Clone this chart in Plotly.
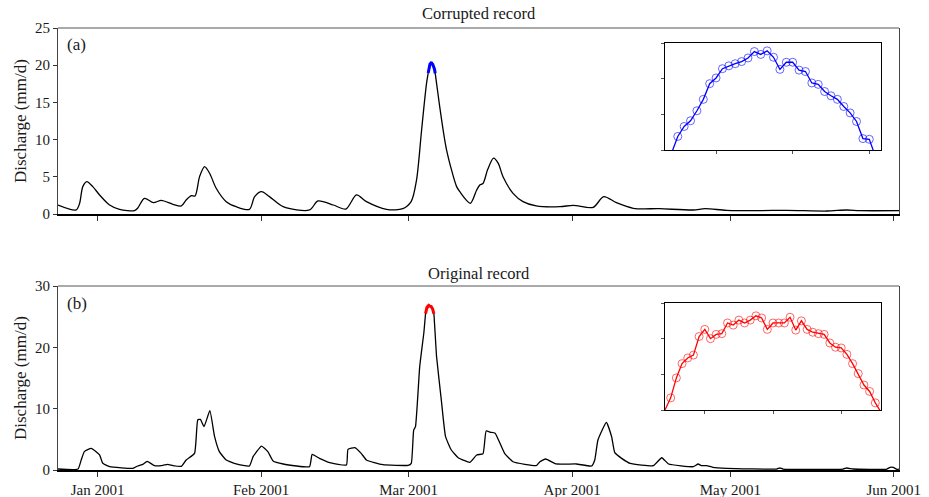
import pandas as pd
import plotly.graph_objects as go

BASE = pd.Timestamp("2001-01-01")

# ---------------- Panel (a): corrupted record (days since 2001-01-01, mm/d)
days_a_pre = [-7.5, -4.05, -3.4, -2.8, -2.03, -0.9, 0.38, 2.28, 4.17, 7.0, 7.6, 8.9, 10.6, 12.1,
              14.3, 15.9, 16.8, 17.8, 18.5, 19.35, 20.3, 21.25, 22.5, 24.4, 26.3, 28.8, 29.8, 31.1,
              32.6, 35.2, 40.2, 41.8, 44.7, 47.1, 49.1, 51.0, 54.8, 57.9, 59.5, 60.5, 61.4, 61.9, 62.4]
q_a_pre = [1.2, 0.55, 1.44, 3.68, 4.35, 3.68, 2.56, 1.21, 0.63, 0.45, 0.77, 2.1, 1.52, 1.84,
           1.3, 1.08, 1.88, 2.46, 2.42, 5.02, 6.37, 5.48, 3.46, 1.66, 0.98, 0.63, 2.33, 3.0,
           2.33, 0.98, 0.54, 1.75, 1.21, 0.67, 2.56, 1.66, 0.63, 0.71, 1.7, 4.58, 10.86, 14.4, 17.6]
days_a_post = [64.5, 64.9, 66.2, 68.1, 68.7, 70.7, 71.9, 72.5, 73.1, 74.0, 75.1, 76.0, 76.9, 78.8,
               80.7, 83.2, 87.7, 90.2, 94.0, 96.0, 98.4, 101.6, 106.6, 113.0, 115.2, 119.3, 125.6,
               130.7, 138.3, 142.1, 144.6, 152.0]
q_a_post = [16.5, 14.4, 8.6, 3.68, 3.0, 1.44, 3.23, 3.9, 4.1, 6.0, 7.5, 6.8, 5.0, 2.78,
            1.66, 1.08, 0.98, 1.17, 0.9, 2.33, 1.52, 0.77, 0.71, 0.54, 0.71, 0.5, 0.45,
            0.5, 0.4, 0.54, 0.45, 0.45]
# hourly values around the flood peak of (a)
peak_a_start = "2001-03-04 17:00"
peak_a = [18.95, 19.19, 19.33, 19.41, 19.55, 19.71, 19.93, 20.01, 20.14, 20.18, 20.21, 20.24,
          20.29, 20.38, 20.34, 20.39, 20.30, 20.13, 20.23, 20.23, 20.12, 20.10, 19.94, 19.92,
          19.82, 19.76, 19.71, 19.61, 19.52, 19.40, 19.16, 19.15, 18.90]

# ---------------- Panel (b): original record
days_b_pre = [-7.5, -3.7, -3.1, -2.5, -1.2, 0.38, 1.0, 2.3, 6.7, 7.6, 8.6, 9.4, 10.8, 12.4, 13.3,
              14.3, 15.9, 16.8, 18.4, 19.0, 19.5, 20.2, 21.3, 22.2, 23.1, 24.4, 26.3, 28.8, 29.5,
              31.1, 32.3, 33.3, 35.2, 40.2, 40.7, 42.1, 44.0, 47.2, 47.5, 48.8, 50.0, 51.0, 54.1,
              58.9, 59.5, 59.96, 60.3, 61.1, 61.9]
q_b_pre = [0.16, 0.16, 1.63, 3.0, 3.53, 2.45, 1.09, 0.54, 0.27, 0.65, 0.92, 1.41, 0.71, 0.76, 0.92,
           0.71, 0.6, 1.63, 2.72, 8.15, 8.26, 7.07, 9.67, 5.43, 3.0, 1.63, 0.98, 0.65, 2.17,
           3.9, 3.0, 1.47, 0.98, 0.54, 2.55, 1.9, 1.2, 0.82, 3.37, 3.64, 2.72, 1.63, 0.87,
           0.76, 1.09, 6.52, 7.07, 16.85, 22.5]
days_b_post = [64.3, 65.2, 66.0, 67.1, 68.4, 70.6, 71.9, 73.1, 73.7, 74.5, 75.4, 77.2, 78.8, 83.2,
               83.9, 85.0, 87.0, 90.8, 93.7, 94.3, 94.9, 96.5, 97.5, 98.1, 99.4, 101.0, 105.4,
               107.0, 108.3, 113.0, 113.9, 114.5, 115.5, 116.7, 119.3, 128.8, 129.4, 130.0,
               141.4, 142.1, 143.3, 149.6, 150.3, 150.9, 151.6, 152.0]
q_b_post = [18.47, 11.4, 5.43, 3.26, 2.0, 1.25, 2.45, 2.65, 6.36, 6.15, 6.0, 2.72, 1.35, 0.71,
            1.35, 1.79, 0.98, 0.98, 0.65, 1.63, 4.89, 7.77, 5.43, 2.83, 1.9, 1.09, 0.71,
            2.0, 0.98, 0.54, 0.98, 0.71, 0.71, 0.43, 0.27, 0.16, 0.33, 0.16,
            0.16, 0.33, 0.16, 0.12, 0.43, 0.43, 0.12, 0.15]
peak_b_start = "2001-03-04 05:00"
peak_b = [25.50, 25.67, 25.95, 26.15, 26.23, 26.27, 26.53, 26.63, 26.50, 26.56, 26.57, 26.72,
          26.69, 26.76, 26.72, 26.76, 26.82, 26.79, 26.63, 26.72, 26.72, 26.72, 26.80, 26.62,
          26.75, 26.63, 26.59, 26.57, 26.56, 26.44, 26.38, 26.37, 26.28, 26.15, 26.01, 25.85,
          25.76, 25.60, 25.47]

# axis ticks / ranges
tick_dates = ["2001-01-01", "2001-02-01", "2001-03-01", "2001-04-01", "2001-05-01", "2001-06-01"]
tick_text = ["Jan 2001", "Feb 2001", "Mar 2001", "Apr 2001", "May 2001", "Jun 2001"]
x_range = ["2000-12-24 12:00", "2001-06-02 00:00"]
inset_a_xrange = ["2001-03-04 16:00", "2001-03-06 01:50"]
inset_a_yrange = [19.0, 20.5]
inset_b_xrange = ["2001-03-04 05:00", "2001-03-05 19:00"]
inset_b_yrange = [25.5, 27.0]


def to_time(days):
    return list(BASE + pd.to_timedelta(days, unit="D"))


t_peak_a = list(pd.date_range(peak_a_start, periods=len(peak_a), freq="h"))
t_peak_b = list(pd.date_range(peak_b_start, periods=len(peak_b), freq="h"))

x_a = to_time(days_a_pre) + t_peak_a + to_time(days_a_post)
y_a = q_a_pre + peak_a + q_a_post
x_b = to_time(days_b_pre) + t_peak_b + to_time(days_b_post)
y_b = q_b_pre + peak_b + q_b_post

W, H = 929, 497


def px_x(a, b):
    return [a / W, b / W]


def px_y(top, bottom):
    return [1 - bottom / H, 1 - top / H]


fig = go.Figure()
BLUE = "#0000ff"
RED = "#ff0000"
FONT = "Liberation Serif"
TXT = "#1a1a1a"

# main panels
fig.add_trace(go.Scatter(x=x_a, y=y_a, mode="lines",
                         line=dict(color="black", width=1.3, shape="spline", smoothing=0.8),
                         xaxis="x", yaxis="y"))
fig.add_trace(go.Scatter(x=t_peak_a, y=peak_a, mode="lines", line=dict(color=BLUE, width=3),
                         xaxis="x", yaxis="y"))
fig.add_trace(go.Scatter(x=x_b, y=y_b, mode="lines",
                         line=dict(color="black", width=1.3, shape="spline", smoothing=0.4),
                         xaxis="x2", yaxis="y2"))
fig.add_trace(go.Scatter(x=t_peak_b, y=peak_b, mode="lines", line=dict(color=RED, width=3),
                         xaxis="x2", yaxis="y2"))

# insets
fig.add_trace(go.Scatter(x=t_peak_a, y=peak_a, mode="lines", line=dict(color=BLUE, width=1.3),
                         xaxis="x3", yaxis="y3"))
fig.add_trace(go.Scatter(x=t_peak_a[1:-1], y=peak_a[1:-1], mode="markers",
                         marker=dict(symbol="circle-open", size=8, color="rgba(0,0,255,0.6)", line=dict(width=1)),
                         xaxis="x3", yaxis="y3"))
fig.add_trace(go.Scatter(x=t_peak_b, y=peak_b, mode="lines", line=dict(color=RED, width=1.3),
                         xaxis="x4", yaxis="y4"))
fig.add_trace(go.Scatter(x=t_peak_b[1:-1], y=peak_b[1:-1], mode="markers",
                         marker=dict(symbol="circle-open", size=8, color="rgba(255,0,0,0.6)", line=dict(width=1)),
                         xaxis="x4", yaxis="y4"))

main_x = dict(type="date", range=x_range, tickvals=tick_dates, ticktext=tick_text, automargin=False,
              showgrid=False, zeroline=False, showline=True, linecolor="black", linewidth=1.6,
              ticks="outside", ticklen=5, tickcolor="#333", tickwidth=1, mirror=False,
              tickfont=dict(size=15))
main_y = dict(showgrid=False, zeroline=False, showline=True, linecolor="#444", linewidth=1, automargin=False,
              ticks="outside", ticklen=4, tickcolor="#333", mirror=True, tickfont=dict(size=15))
inset_x = dict(type="date", showgrid=False, zeroline=False, showline=True, linecolor="black", linewidth=1.3,
               mirror=True, ticks="outside", ticklen=3, tickcolor="#555", showticklabels=False,
               automargin=False, tick0="2001-03-04 00:00", dtick=12 * 3600 * 1000)
inset_y = dict(showgrid=False, zeroline=False, showline=True, linecolor="black", linewidth=1.3,
               mirror=True, ticks="outside", ticklen=3, tickcolor="#555", showticklabels=False,
               automargin=False, dtick=0.5)

fig.update_layout(
    width=W, height=H,
    autosize=False,
    margin=dict(l=0, r=0, t=0, b=0, pad=0, autoexpand=False),
    paper_bgcolor="white", plot_bgcolor="white",
    showlegend=False,
    font=dict(family=FONT, size=15, color=TXT),
    xaxis=dict(main_x, domain=px_x(58, 899), anchor="y", showticklabels=False),
    yaxis=dict(main_y, domain=px_y(28, 214), anchor="x", range=[0, 25], tickvals=[0, 5, 10, 15, 20, 25]),
    xaxis2=dict(main_x, domain=px_x(58, 899), anchor="y2", showticklabels=True),
    yaxis2=dict(main_y, domain=px_y(286, 470), anchor="x2", range=[0, 30], tickvals=[0, 10, 20, 30]),
    xaxis3=dict(inset_x, domain=px_x(665, 881), anchor="y3", range=inset_a_xrange),
    yaxis3=dict(inset_y, domain=px_y(43, 150), anchor="x3", range=inset_a_yrange),
    xaxis4=dict(inset_x, domain=px_x(665, 881), anchor="y4", range=inset_b_xrange),
    yaxis4=dict(inset_y, domain=px_y(303, 410), anchor="x4", range=inset_b_yrange),
)

# top border of the main panels
for xr, yr in (("x domain", "y domain"), ("x2 domain", "y2 domain")):
    fig.add_shape(type="line", xref=xr, yref=yr, x0=0, x1=1, y0=1, y1=1,
                  line=dict(color="#555", width=1))

for txt, yy in (("Corrupted record", 14), ("Original record", 273)):
    fig.add_annotation(text=txt, x=478.5 / W, y=1 - yy / H, xref="paper", yref="paper",
                       showarrow=False, xanchor="center", yanchor="middle",
                       font=dict(size=16.5, family=FONT, color=TXT))
for lbl, yy in (("(a)", 44), ("(b)", 303)):
    fig.add_annotation(text=lbl, x=65 / W, y=1 - yy / H, xref="paper", yref="paper", showarrow=False,
                       xanchor="left", yanchor="middle", font=dict(size=17, family=FONT, color=TXT))
for yy in (121, 378):
    fig.add_annotation(text="Discharge (mm/d)", x=20 / W, y=1 - yy / H, xref="paper", yref="paper",
                       showarrow=False, textangle=-90, xanchor="center", yanchor="middle",
                       font=dict(size=17, family=FONT, color=TXT))

fig.write_html("out.html",
               config={"displayModeBar": False},
               post_script="document.body.style.margin='0';"
                           "document.body.style.padding='0';"
                           "document.documentElement.style.overflow='hidden';")
